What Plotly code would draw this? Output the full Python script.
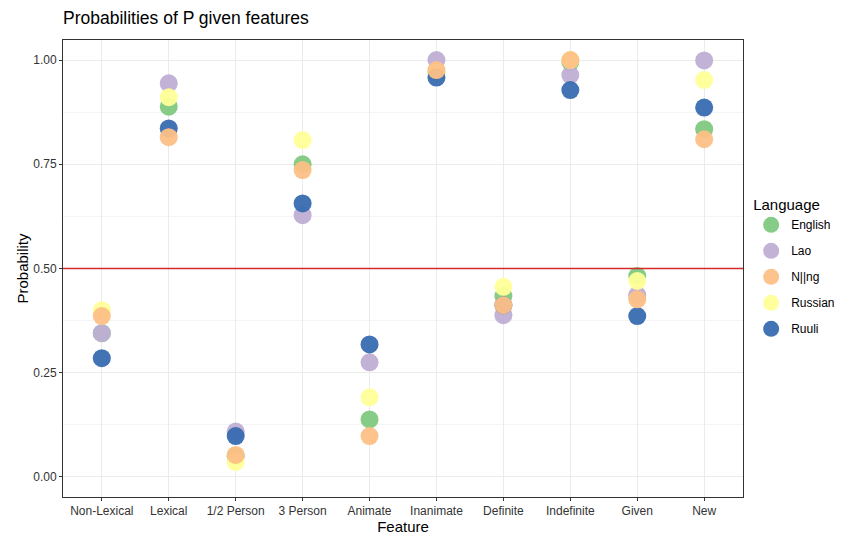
import plotly.graph_objects as go

features = ["Non-Lexical", "Lexical", "1/2 Person", "3 Person", "Animate",
            "Inanimate", "Definite", "Indefinite", "Given", "New"]

english = [0.345, 0.888, 0.05, 0.75, 0.138, 0.97, 0.434, 0.995, 0.482, 0.834]
lao     = [0.345, 0.944, 0.109, 0.628, 0.275, 1.0, 0.388, 0.964, 0.436, 0.999]
nlng    = [0.386, 0.815, 0.053, 0.736, 0.098, 0.976, 0.412, 1.0, 0.426, 0.81]
russian = [0.40, 0.911, 0.036, 0.808, 0.191, 0.97, 0.456, 1.0, 0.47, 0.952]
ruuli   = [0.285, 0.836, 0.098, 0.656, 0.318, 0.958, 0.412, 0.928, 0.386, 0.886]

languages = ["English", "Lao", "N||ng", "Russian", "Ruuli"]
colors = {"English": "#7FC97F", "Lao": "#BEAED4", "N||ng": "#FDC086",
          "Russian": "#FFFF99", "Ruuli": "#386CB0"}
series = {"English": english, "Lao": lao, "N||ng": nlng,
          "Russian": russian, "Ruuli": ruuli}
draw_order = ["English", "Lao", "Russian", "Ruuli", "N||ng"]

font_family = "Liberation Sans, Arial, sans-serif"

fig = go.Figure()
for lang in draw_order:
    fig.add_trace(go.Scatter(
        x=list(range(len(features))), y=series[lang], mode="markers", name=lang,
        legendrank=languages.index(lang) + 1, legendgroup=lang,
        marker=dict(size=18, color=colors[lang], opacity=0.95, line=dict(width=0)),
    ))

fig.add_hline(y=0.5, line=dict(color="#D42A2A", width=1.5), layer="above")

fig.update_layout(
    width=845, height=532,
    margin=dict(l=55, r=110, t=32, b=43, autoexpand=False),
    paper_bgcolor="white", plot_bgcolor="white",
    font=dict(family=font_family, color="#222222"),
    title=dict(text="Probabilities of P given features", x=0, xref="paper",
               y=1, yref="container", yanchor="top", pad=dict(t=4),
               font=dict(size=17.5, color="black")),
    legend=dict(title=dict(text="Language", font=dict(size=15, color="black")),
                x=1.012, xanchor="left", y=0.67, yanchor="top",
                font=dict(size=12, color="black"), itemsizing="trace",
                tracegroupgap=7, bgcolor="rgba(0,0,0,0)"),
    showlegend=True,
)

fig.update_xaxes(
    tickmode="array", tickvals=list(range(len(features))), ticktext=features,
    range=[-0.58, 9.58], showgrid=True, gridcolor="#EBEBEB", gridwidth=1,
    zeroline=False, showline=True, linecolor="#333333", linewidth=1, mirror=True,
    ticks="outside", ticklen=3, tickcolor="#333333", automargin=False,
    tickfont=dict(size=12, color="#333333"),
    title=dict(text="Feature", font=dict(size=15, color="black"), standoff=2),
)
fig.update_yaxes(
    range=[-0.048, 1.048], tickvals=[0, 0.25, 0.5, 0.75, 1.0], tickformat=".2f",
    showgrid=True, gridcolor="#EBEBEB", gridwidth=1,
    minor=dict(tickvals=[0.125, 0.375, 0.625, 0.875], showgrid=True,
               gridcolor="#F4F4F4", gridwidth=0.6),
    zeroline=False, showline=True, linecolor="#333333", linewidth=1, mirror=True,
    ticks="outside", ticklen=3, tickcolor="#333333", automargin=False,
    tickfont=dict(size=12, color="#333333"),
    title=dict(text="Probability", font=dict(size=15, color="black"), standoff=0),
)

fig.write_html("out.html")
